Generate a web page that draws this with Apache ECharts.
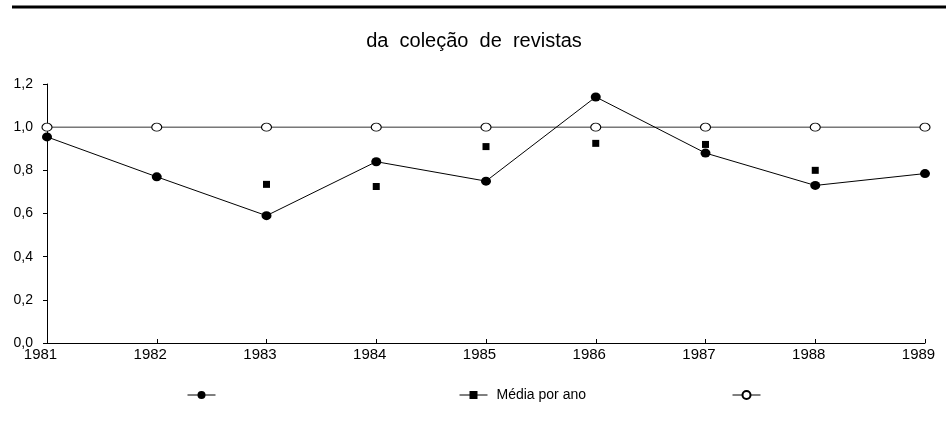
<!DOCTYPE html>
<html>
<head>
<meta charset="utf-8">
<script src="https://cdn.jsdelivr.net/npm/echarts@6/dist/echarts.min.js"></script>
<style>
  html, body { margin: 0; padding: 0; background: #fff; }
  #chart { width: 946px; height: 423px; }
</style>
</head>
<body>
<div id="chart"></div>
<script>
  // anos
  var years = ['1981', '1982', '1983', '1984', '1985', '1986', '1987', '1988', '1989'];
  // série com círculos cheios
  var filledValues = [0.955, 0.77, 0.59, 0.84, 0.75, 1.14, 0.88, 0.73, 0.785];
  // média por ano (quadrados)
  var mediaValues = [null, null, 0.735, 0.725, 0.91, 0.925, 0.92, 0.80, null];
  // referência (círculos vazios)
  var refValues = [1, 1, 1, 1, 1, 1, 1, 1, 1];

  var font = 'Arial, "Liberation Sans", sans-serif';
  var chart = echarts.init(document.getElementById('chart'));

  var legendBase = {
    top: 383,
    itemWidth: 28,
    itemHeight: 10,
    textStyle: { color: '#000', fontSize: 14, fontFamily: font, padding: [0, 0, 0, 4] },
    lineStyle: { color: '#000', width: 1, opacity: 1 },
    selectedMode: false
  };

  chart.setOption({
    animation: false,
    graphic: [
      {
        type: 'line',
        shape: { x1: 12, y1: 7, x2: 946, y2: 7 },
        style: { stroke: '#000', lineWidth: 3 }
      },
      {
        type: 'text',
        x: 474, y: 41,
        style: {
          text: 'da  coleção  de  revistas',
          fontSize: 20, fontFamily: font, fill: '#000',
          align: 'center', verticalAlign: 'middle'
        }
      }
    ],
    legend: [
      Object.assign({ left: 182, data: [' '] }, legendBase),
      Object.assign({ left: 454, data: ['Média por ano'] }, legendBase),
      Object.assign({ left: 727, data: ['  '] }, legendBase)
    ],
    grid: { left: 47, right: 21, top: 84, bottom: 80, containLabel: false },
    xAxis: {
      type: 'category',
      data: years,
      boundaryGap: false,
      axisLine: { lineStyle: { color: '#000', width: 1 } },
      axisTick: { show: true, inside: true, length: 4, lineStyle: { color: '#000' } },
      axisLabel: {
        color: '#000', fontSize: 15, fontFamily: font, margin: 4,
        padding: [0, 13, 0, 0]
      },
      splitLine: { show: false }
    },
    yAxis: {
      type: 'value',
      min: 0,
      max: 1.2,
      interval: 0.2,
      axisLine: { show: true, lineStyle: { color: '#000', width: 1 } },
      axisTick: { show: true, length: 4, lineStyle: { color: '#000' } },
      axisLabel: {
        color: '#000', fontSize: 14, fontFamily: font, margin: 14,
        formatter: function (v) { return v.toFixed(1).replace('.', ','); }
      },
      splitLine: { show: false }
    },
    series: [
      {
        name: ' ',
        type: 'line',
        data: filledValues,
        symbol: 'circle',
        symbolSize: [10, 9],
        showAllSymbol: true,
        lineStyle: { color: '#000', width: 1 },
        itemStyle: { color: '#000' },
        z: 3
      },
      {
        name: 'Média por ano',
        type: 'line',
        data: mediaValues,
        symbol: 'rect',
        symbolSize: 7,
        showAllSymbol: true,
        lineStyle: { width: 0, opacity: 0 },
        itemStyle: { color: '#000' },
        z: 3
      },
      {
        name: '  ',
        type: 'line',
        data: refValues,
        symbol: 'circle',
        symbolSize: [10, 8],
        showAllSymbol: true,
        lineStyle: { color: '#333', width: 1 },
        itemStyle: { color: '#fff', borderColor: '#000', borderWidth: 1 },
        z: 2
      }
    ]
  });
</script>
</body>
</html>
